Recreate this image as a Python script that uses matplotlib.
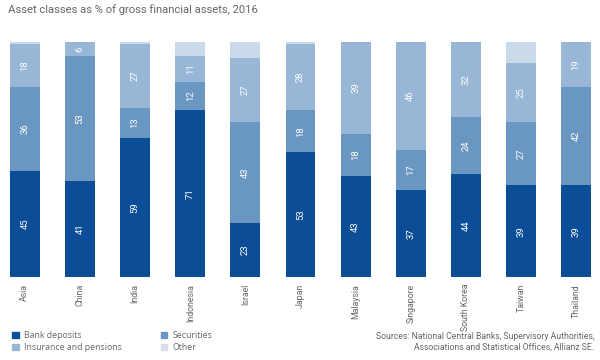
import numpy as np
import matplotlib
matplotlib.use('Agg')
import matplotlib.pyplot as plt
from matplotlib.patches import Patch

# Datos
paises = ['Asia', 'China', 'India', 'Indonesia', 'Israel', 'Japan', 'Malaysia',
          'Singapore', 'South Korea', 'Taiwan', 'Thailand']
depositos = [45, 41, 59, 71, 23, 53, 43, 37, 44, 39, 39]
valores = [36, 53, 13, 12, 43, 18, 18, 17, 24, 27, 42]
seguros = [18, 6, 27, 11, 27, 28, 39, 46, 32, 25, 19]
otros = [1, 0, 1, 6, 7, 1, 0, 0, 0, 9, 0]

series = ['Bank deposits', 'Securities', 'Insurance and pensions', 'Other']
colores = ['#0b4d96', '#6a96c2', '#98b7d6', '#c9dbeb']
gris = '#666666'
fuente = ['Roboto', 'DejaVu Sans']

plt.rcParams['font.family'] = ['Open Sans', 'DejaVu Sans']

fig = plt.figure(figsize=(6, 3.6), dpi=100)
ax = fig.add_axes([10 / 600, 1 - 277 / 360, 581 / 600, 235 / 360])

x = np.arange(len(paises))
ancho = 0.54
base = np.zeros(len(paises))
for datos, color in zip([depositos, valores, seguros, otros], colores):
    datos = np.array(datos, dtype=float)
    ax.bar(x, datos, ancho, bottom=base, color=color, linewidth=0)
    if color != colores[3]:
        for xi, b, v in zip(x, base, datos):
            if v > 0:
                ax.text(xi, b + v / 2, str(int(v)), rotation=90, ha='center', va='center',
                        color='white', fontsize=6.8, family=fuente)
    base += datos

ax.set_xlim(-0.27, len(paises) - 1 + 0.27)
ax.set_ylim(0, 100)
ax.set_xticks(x)
ax.set_xticklabels(paises, rotation=90, color=gris, fontsize=6.3, family=fuente)
ax.tick_params(axis='x', length=0, pad=5)
ax.set_yticks([])
for s in ax.spines.values():
    s.set_visible(False)

fig.text(8 / 600, 1 - 10 / 360, 'Asset classes as % of gross financial assets, 2016',
         fontsize=8.1, color=gris, va='center', ha='left', family=fuente)

# Leyenda
handles = [Patch(color=colores[0]), Patch(color=colores[2]),
           Patch(color=colores[1]), Patch(color='#d6dde5')]
fig.legend(handles=handles,
           labels=[series[0], series[2], series[1], series[3]],
           ncol=2, loc='upper left', bbox_to_anchor=(8 / 600, 1 - 327 / 360),
           frameon=False, fontsize=6.3, labelcolor=gris, handlelength=0.7,
           handleheight=0.7, handletextpad=0.6, columnspacing=4.5,
           labelspacing=0.3, borderpad=0)

fig.text(594 / 600, 1 - 342 / 360,
         'Sources: National Central Banks, Supervisory Authorities,\n'
         'Associations and Statistical Offices, Allianz SE.',
         fontsize=6.2, color=gris, ha='right', va='center',
         multialignment='right', family=fuente, linespacing=1.3)

fig.savefig('out.png', dpi=100)
